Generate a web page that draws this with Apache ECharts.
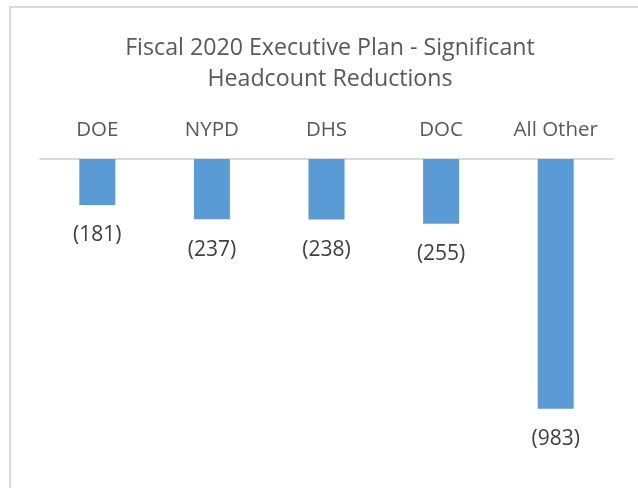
<!DOCTYPE html>
<html>
<head>
<meta charset="utf-8">
<script src="https://cdn.jsdelivr.net/npm/echarts@6/dist/echarts.min.js"></script>
<style>html,body{margin:0;padding:0;background:#fff;}#c{width:638px;height:488px;}</style>
</head>
<body>
<div id="c"></div>
<script>
var titleText = 'Fiscal 2020 Executive Plan - Significant\nHeadcount Reductions';
var categories = ['DOE', 'NYPD', 'DHS', 'DOC', 'All Other'];
var values = [-181, -237, -238, -255, -983];

var FONT = '"Open Sans", sans-serif';
var chart = echarts.init(document.getElementById('c'));
chart.setOption({
  animation: false,
  backgroundColor: '#ffffff',
  graphic: [{
    type: 'rect',
    shape: { x: 10, y: 7, width: 700, height: 600 },
    style: { fill: 'none', stroke: '#d9d9d9', lineWidth: 2 },
    silent: true
  }],
  title: {
    text: titleText,
    left: 325,
    top: 28,
    textAlign: 'center',
    textStyle: { fontFamily: FONT, fontSize: 23.2, fontWeight: 'normal', color: '#595959', lineHeight: 31 }
  },
  grid: { left: 40, right: 25, top: 159, bottom: 24, containLabel: false },
  xAxis: {
    type: 'category',
    position: 'top',
    data: categories,
    axisLine: { show: true, lineStyle: { color: '#d9d9d9', width: 2 } },
    axisTick: { show: false },
    axisLabel: { fontFamily: FONT, fontSize: 20.5, color: '#595959', margin: 18 }
  },
  yAxis: {
    type: 'value',
    min: -1200,
    max: 0,
    show: false,
    splitLine: { show: false }
  },
  series: [{
    type: 'bar',
    data: values,
    barWidth: 36,
    itemStyle: { color: '#5b9bd5' },
    label: {
      show: true,
      position: 'bottom',
      distance: 20,
      fontFamily: FONT,
      fontSize: 21,
      color: '#404040',
      formatter: function (p) { return '(' + Math.abs(p.value) + ')'; }
    }
  }]
});
</script>
</body>
</html>
